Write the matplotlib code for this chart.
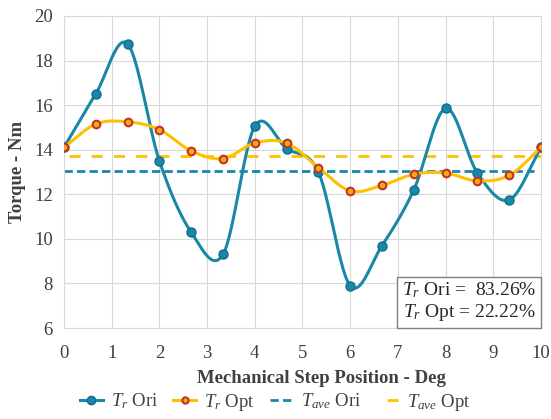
import numpy as np
import matplotlib.pyplot as plt
from matplotlib.lines import Line2D

plt.rcParams['font.family'] = ['Liberation Serif', 'DejaVu Serif']
plt.rcParams['mathtext.fontset'] = 'custom'
plt.rcParams['mathtext.it'] = 'Liberation Serif:italic'
plt.rcParams['mathtext.rm'] = 'Liberation Serif'

step_pos = [0, 2/3, 4/3, 2, 8/3, 10/3, 4, 14/3, 16/3, 6, 20/3, 22/3, 8, 26/3, 28/3, 10]
tr_ori = [14.1, 16.5, 18.75, 13.5, 10.3, 9.3, 15.05, 14.05, 13.0, 7.9, 9.7, 12.2, 15.85, 12.95, 11.75, 14.1]
tr_opt = [14.1, 15.15, 15.25, 14.9, 13.95, 13.6, 14.3, 14.3, 13.2, 12.15, 12.4, 12.9, 12.95, 12.6, 12.85, 14.1]
tave_ori = 13.05
tave_opt = 13.7

BLUE = '#1a87a8'
YELLOW = '#ffc000'
RED = '#c0381c'


def smooth(x, y, n=30):
    # Catmull-Rom, like Excel's smoothed line
    x = np.asarray(x, float)
    y = np.asarray(y, float)
    px = np.concatenate([[2 * x[0] - x[1]], x, [2 * x[-1] - x[-2]]])
    py = np.concatenate([[2 * y[0] - y[1]], y, [2 * y[-1] - y[-2]]])
    xs, ys = [], []
    t = np.linspace(0, 1, n, endpoint=False)
    for i in range(1, len(px) - 2):
        for p, out in ((px, xs), (py, ys)):
            p0, p1, p2, p3 = p[i - 1], p[i], p[i + 1], p[i + 2]
            out.extend(0.5 * (2 * p1 + (-p0 + p2) * t
                              + (2 * p0 - 5 * p1 + 4 * p2 - p3) * t ** 2
                              + (-p0 + 3 * p1 - 3 * p2 + p3) * t ** 3))
    xs.append(x[-1])
    ys.append(y[-1])
    return np.array(xs), np.array(ys)


fig = plt.figure(figsize=(5.51, 4.19), dpi=100)
ax = fig.add_axes([0.116, 0.217, 0.866, 0.745])

ax.axhline(tave_ori, color=BLUE, lw=2, ls=(0, (3, 1.5)), xmax=0.985, zorder=2)
ax.axhline(tave_opt, color=YELLOW, lw=2, ls=(0, (4, 4)), xmin=0.01, zorder=2)

sx, sy = smooth(step_pos, tr_ori)
ax.plot(sx, sy, color=BLUE, lw=2.2, zorder=3)
ax.plot(step_pos, tr_ori, 'o', color=BLUE, mec='#0f6e8c', ms=6.5, zorder=4)

sx, sy = smooth(step_pos, tr_opt)
ax.plot(sx, sy, color=YELLOW, lw=2.2, zorder=5)
ax.plot(step_pos, tr_opt, 'o', color='#f5a623', mec=RED, mew=1.5, ms=5.5, zorder=6)

ax.set_xlim(0, 10)
ax.set_ylim(6, 20)
ax.set_xticks(range(0, 11))
ax.set_yticks(range(6, 21, 2))
ax.grid(True, color='#d9d9d9', lw=0.8)
ax.set_axisbelow(True)
for s in ax.spines.values():
    s.set_color('#d9d9d9')
ax.tick_params(length=0, labelsize=13.5, colors='#404040')
ax.tick_params(axis='x', pad=12)
ax.tick_params(axis='y', pad=8)

ax.set_xlabel('Mechanical Step Position - Deg', fontsize=13.5, fontweight='bold', color='#404040', labelpad=8)
ax.xaxis.set_label_coords(0.539, -0.135)
ax.set_ylabel('Torque - Nm', fontsize=13.5, fontweight='bold', color='#404040', labelpad=6)

ax.text(0.9895, 0.016, '$T_r$ Ori =  83.26%\n$T_r$ Opt = 22.22%', transform=ax.transAxes,
        ha='right', va='bottom', fontsize=14, color='#262626', linespacing=1.15,
        bbox=dict(boxstyle='square,pad=0.25', fc='white', ec='#7f7f7f', lw=1), zorder=10)

handles = [
    Line2D([], [], color=BLUE, lw=2.2, marker='o', ms=6, mec='#0f6e8c'),
    Line2D([], [], color=YELLOW, lw=2.2, marker='o', ms=4.5, mfc='#f5a623', mec=RED, mew=1.5),
    Line2D([], [], color=BLUE, lw=2, ls=(0, (3, 1.5))),
    Line2D([], [], color=YELLOW, lw=2, ls=(4, (4, 4))),
]
labels = ['$T_r$ Ori', '$T_r$ Opt', '$T_{ave}$ Ori', '$T_{ave}$ Opt']
fig.legend(handles, labels, loc='lower center', bbox_to_anchor=(0.5, -0.025), ncol=4,
           frameon=False, fontsize=13.5, handlelength=1.2, handletextpad=0.45, columnspacing=0.8,
           labelcolor='#404040')

fig.savefig('out.png', dpi=100)
